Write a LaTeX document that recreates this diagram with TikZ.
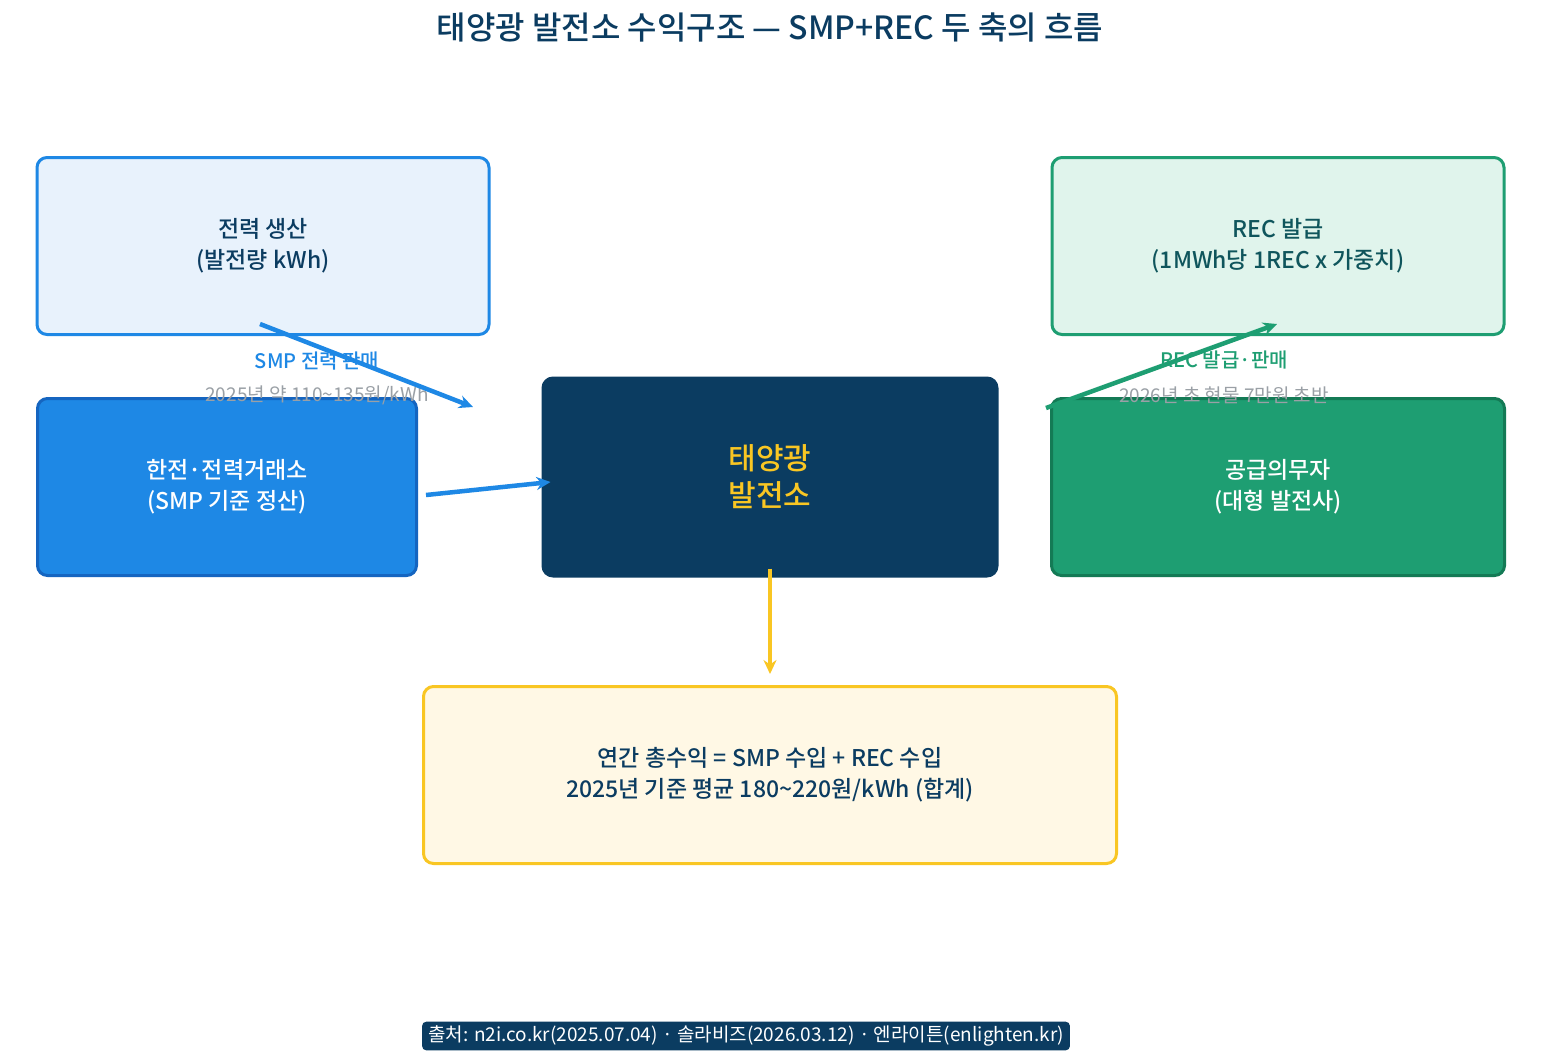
\documentclass[tikz,border=0pt]{standalone}
\usepackage{fontspec}
\setmainfont{Noto Sans CJK KR}[BoldFont={Noto Sans CJK KR Medium}]
\usetikzlibrary{arrows.meta,positioning}
\definecolor{navy}{HTML}{0B3C61}
\definecolor{smpblue}{HTML}{1E88E5}
\definecolor{smpdark}{HTML}{1565C0}
\definecolor{smplight}{HTML}{E8F2FC}
\definecolor{recgreen}{HTML}{1E9E72}
\definecolor{recdark}{HTML}{147A55}
\definecolor{reclight}{HTML}{E0F4EC}
\definecolor{sunyellow}{HTML}{F9C623}
\definecolor{sunlight}{HTML}{FFF8E5}
\definecolor{notegray}{HTML}{9AA0A6}
\tikzset{
  flowbox/.style={rounded corners=10pt,line width=3pt,align=center,
    minimum width=452pt,minimum height=177pt,font=\fontsize{23}{31}\selectfont\bfseries},
  flowarrow/.style={line width=4.5pt,-{Stealth[length=14pt,width=13pt]}},
  flowlabel/.style={font=\fontsize{20}{22}\selectfont\bfseries},
  flownote/.style={font=\fontsize{19}{21}\selectfont,text=notegray}
}
\begin{document}
\begin{tikzpicture}[x=1pt,y=-1pt]
  \useasboundingbox[fill=white] (0,0) rectangle (1541,1061);
  \node[text=navy,font=\fontsize{32}{36}\selectfont\bfseries] (title) at (770,27)
    {태양광 발전소 수익구조 — SMP+REC 두 축의 흐름};
  % boxes
  \node[flowbox,draw=smpblue,fill=smplight,text=navy] (gen) at (263,246)
    {전력 생산\\(발전량 kWh)};
  \node[flowbox,draw=smpdark,fill=smpblue,text=white,minimum width=379pt] (kepco) at (227,487)
    {한전·전력거래소\\(SMP 기준 정산)};
  \node[flowbox,draw=navy,fill=navy,text=sunyellow,minimum width=454pt,minimum height=198pt,
    font=\fontsize{30}{37}\selectfont\bfseries] (plant) at (770,477) {태양광\\발전소};
  \node[flowbox,draw=recgreen,fill=reclight,text=navy!60!recdark] (rec) at (1278,246)
    {REC 발급\\(1MWh당 1REC x 가중치)};
  \node[flowbox,draw=recdark,fill=recgreen,text=white,minimum width=453pt] (buyer) at (1278,487)
    {공급의무자\\(대형 발전사)};
  \node[flowbox,draw=sunyellow,fill=sunlight,text=navy,minimum width=693pt] (total) at (770,775)
    {연간 총수익 = SMP 수입 + REC 수입\\2025년 기준 평균 180\textasciitilde220원/kWh (합계)};
  % labels
  \node[flowlabel,text=smpblue] (smplabel) at (317,361) {SMP 전력 판매};
  \node[flownote] (smpnote) at (317,395) {2025년 약 110\textasciitilde135원/kWh};
  \node[flowlabel,text=recgreen] (reclabel) at (1224,360) {REC 발급·판매};
  \node[flownote] (recnote) at (1224,395) {2026년 초 현물 7만원 초반};
  % arrows
  \coordinate (smpstart) at (260,324);
  \coordinate (smpend) at (473,407);
  \coordinate (recstart) at (1046,408);
  \coordinate (recend) at (1277,324);
  \draw[flowarrow,smpblue] (smpstart) -- (smpend);
  \draw[flowarrow,smpblue] (kepco.east |- 0,495) ++(8,0) -- ([xshift=9pt,yshift=-5pt]plant.west);
  \draw[flowarrow,recgreen] (recstart) -- (recend);
  \draw[flowarrow,sunyellow] ([yshift=9pt]plant.south) -- ([yshift=11pt]total.north);
  % source
  \node[fill=navy,text=white,rounded corners=4pt,inner xsep=6pt,inner ysep=4pt,
    font=\fontsize{19}{22}\selectfont] (source) at (746,1036)
    {출처: n2i.co.kr(2025.07.04) · 솔라비즈(2026.03.12) · 엔라이튼(enlighten.kr)};
\end{tikzpicture}
\end{document}
